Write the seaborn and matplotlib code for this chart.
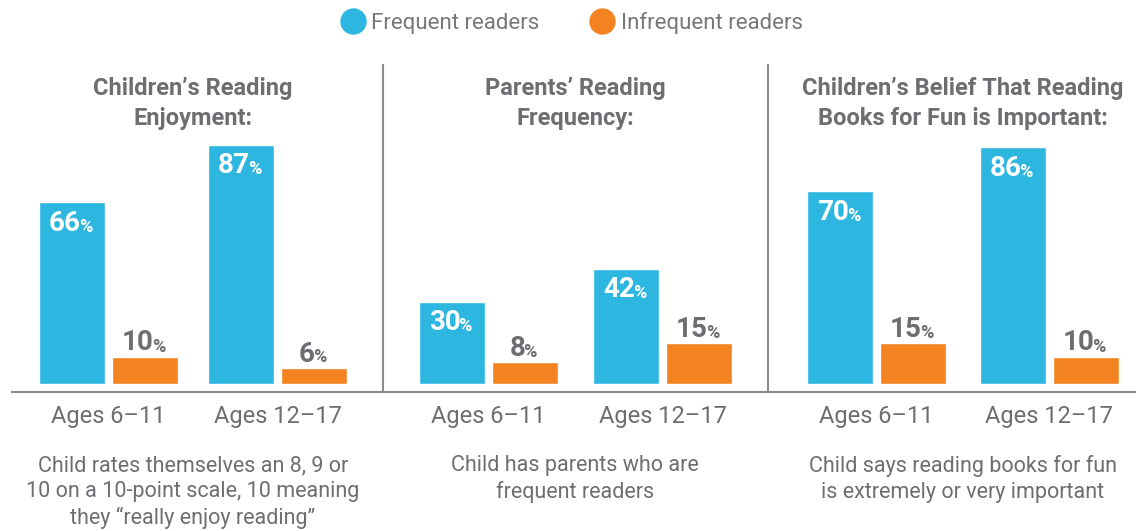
import matplotlib
matplotlib.use("Agg")
import matplotlib.pyplot as plt
from matplotlib.lines import Line2D
import seaborn as sns
import pandas as pd

# ---------------- data ----------------
age_groups = ["Ages 6\u201311", "Ages 12\u201317"]
series = ["Frequent readers", "Infrequent readers"]
titles = ["Children\u2019s Reading\nEnjoyment:",
          "Parents\u2019 Reading\nFrequency:",
          "Children\u2019s Belief That Reading\nBooks for Fun is Important:"]
descriptions = ["Child rates themselves an 8, 9 or\n10 on a 10-point scale, 10 meaning\nthey \u201creally enjoy reading\u201d",
                "Child has parents who are\nfrequent readers",
                "Child says reading books for fun\nis extremely or very important"]
frequent_vals = [[66, 87], [30, 42], [70, 86]]
infrequent_vals = [[10, 6], [8, 15], [15, 10]]

BLUE = "#2cb6e0"
ORANGE = "#f38321"
GRAY = "#6d6e71"
LINE = "#8c8c8c"

sns.set_theme(style="white")
FONT = ["Roboto", "DejaVu Sans"]
plt.rcParams["font.family"] = FONT

W, H = 1136, 531
fig = plt.figure(figsize=(W / 100, H / 100), dpi=100)

# panel geometry in pixels: (first group center, px per category, left, right)
panels = [(108.5, 169.0, 12, 383), (488.0, 174.5, 383, 768), (876.5, 172.5, 768, 1136)]
base_px, axis_px, top_px = 384, 392, 65
pxpct = 2.75
ylo = -(axis_px - base_px) / pxpct
yhi = (base_px - top_px) / pxpct

for i, (c, u, lpx, rpx) in enumerate(panels):
    ax = fig.add_axes([lpx / W, 1 - axis_px / H, (rpx - lpx) / W, (axis_px - top_px) / H])
    df = pd.DataFrame({
        "age": age_groups * 2,
        "group": [series[0]] * 2 + [series[1]] * 2,
        "value": frequent_vals[i] + infrequent_vals[i],
    })
    sns.barplot(data=df, x="age", y="value", hue="group", order=age_groups,
                hue_order=series, palette=[BLUE, ORANGE], width=146 / u,
                gap=7 / 73, ax=ax, legend=False, saturation=1)
    ax.set_xlim((lpx - c) / u, (rpx - c) / u)
    ax.set_ylim(ylo, yhi)
    ax.set_xlabel("")
    ax.set_ylabel("")
    ax.set_yticks([])
    for s in ["top", "right"]:
        ax.spines[s].set_visible(False)
    ax.spines["left"].set_visible(i > 0)
    for s in ["left", "bottom"]:
        ax.spines[s].set_color(LINE)
        ax.spines[s].set_linewidth(1.5)
    ax.tick_params(axis="x", which="major", length=0, pad=9, labelsize=17,
                   labelcolor=GRAY)
    ax.set_xticks([0.5], minor=True)
    ax.tick_params(axis="x", which="minor", length=21.6, width=1.2,
                   color=LINE, direction="inout")
    # value labels
    for k, cont in enumerate(ax.containers):
        for bar, v in zip(cont, cont.datavalues):
            xc = bar.get_x() + bar.get_width() / 2
            if k == 0:
                t = ax.annotate(f"{int(v)}", (xc, v), xytext=(-7, -21),
                                textcoords="offset pixels", ha="center", va="center",
                                fontsize=20, fontweight="bold", color="white")
                col = "white"
            else:
                t = ax.annotate(f"{int(v)}", (xc, v), xytext=(-7, 6),
                                textcoords="offset pixels", ha="center", va="baseline",
                                fontsize=20, fontweight="bold", color=GRAY)
                col = GRAY
            ax.annotate("%", xy=(1, 0), xycoords=t, xytext=(-2, 1),
                        textcoords="offset pixels", ha="left", va="bottom",
                        fontsize=13, fontweight="bold", color=col)
    xm = c + u / 2
    fig.text(xm / W, 1 - 77 / H, titles[i], ha="center", va="top", fontsize=17,
             fontweight="bold", color=GRAY, linespacing=1.4)
    fig.text(xm / W, 1 - 455 / H, descriptions[i], ha="center", va="top",
             fontsize=15.5, color=GRAY, linespacing=1.3)

handles = [Line2D([], [], marker="o", linestyle="", markersize=18,
                  markerfacecolor=col, markeredgecolor=col) for col in (BLUE, ORANGE)]
leg = fig.legend(handles, series, loc="center", bbox_to_anchor=(571 / W, 1 - 23 / H),
                 ncol=2, frameon=False, fontsize=16, handletextpad=0.25,
                 columnspacing=2.2, borderpad=0, handlelength=1.2)
for t in leg.get_texts():
    t.set_color("#77787b")

fig.savefig("out.png", dpi=100)
